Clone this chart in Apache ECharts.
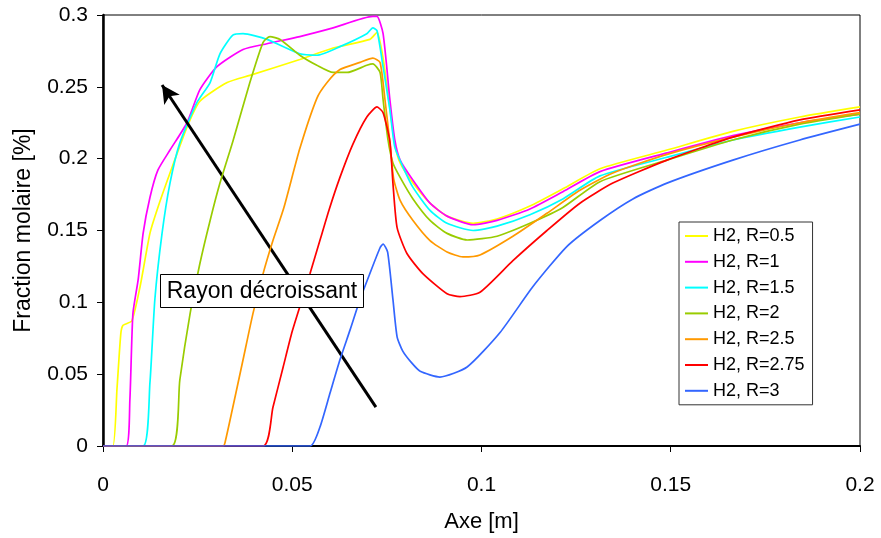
<!DOCTYPE html>
<html>
<head>
<meta charset="utf-8">
<script src="https://cdn.jsdelivr.net/npm/echarts@6/dist/echarts.min.js"></script>
<style>html,body{margin:0;padding:0;background:#fff}#c{width:881px;height:538px}</style>
</head>
<body>
<div id="c"></div>
<script>
const seriesNames = ['H2, R=0.5','H2, R=1','H2, R=1.5','H2, R=2','H2, R=2.5','H2, R=2.75','H2, R=3'];
const seriesColors = ['#FFFF00','#FF00FF','#00FFFF','#99CC00','#FF9900','#FF0000','#3366FF'];
const xTicks = [0, 0.05, 0.1, 0.15, 0.2];
const yTicks = [0, 0.05, 0.1, 0.15, 0.2, 0.25, 0.3];

const r05 = [[0,0],[0.0026,0],[0.0037,0.04],[0.0047,0.078],[0.0053,0.084],[0.0076,0.087],[0.0098,0.111],[0.0124,0.148],[0.0145,0.166],[0.0177,0.19],[0.0222,0.222],[0.0256,0.24],[0.0328,0.253],[0.0388,0.258],[0.052,0.269],[0.0608,0.277],[0.0705,0.283],[0.0724,0.288],[0.074,0.27],[0.0758,0.235],[0.0771,0.21],[0.0785,0.197],[0.0819,0.183],[0.0864,0.169],[0.0909,0.16],[0.0978,0.155],[0.1041,0.158],[0.1128,0.167],[0.1215,0.179],[0.1313,0.193],[0.149,0.206],[0.1664,0.219],[0.1841,0.229],[0.2,0.236]];
const r1 = [[0,0],[0.0061,0],[0.0071,0.032],[0.0079,0.092],[0.0093,0.116],[0.0106,0.148],[0.0124,0.173],[0.0145,0.192],[0.0177,0.206],[0.0222,0.225],[0.0256,0.248],[0.0301,0.264],[0.037,0.276],[0.0433,0.28],[0.052,0.285],[0.0608,0.291],[0.0713,0.299],[0.0724,0.299],[0.074,0.287],[0.0758,0.241],[0.0771,0.213],[0.0785,0.199],[0.0819,0.185],[0.0864,0.169],[0.0909,0.16],[0.0978,0.154],[0.1041,0.157],[0.1128,0.165],[0.1215,0.177],[0.1313,0.191],[0.149,0.204],[0.1664,0.216],[0.1841,0.225],[0.2,0.231]];
const r15 = [[0,0],[0.0106,0],[0.0124,0.044],[0.0137,0.102],[0.0156,0.148],[0.0177,0.183],[0.0203,0.211],[0.0248,0.239],[0.0283,0.253],[0.0309,0.273],[0.0343,0.286],[0.037,0.287],[0.0433,0.283],[0.052,0.273],[0.0565,0.272],[0.0626,0.278],[0.0697,0.287],[0.0713,0.291],[0.0724,0.289],[0.074,0.264],[0.0758,0.234],[0.0771,0.208],[0.0793,0.194],[0.0819,0.18],[0.0864,0.164],[0.0909,0.155],[0.0978,0.15],[0.1041,0.153],[0.1128,0.161],[0.1215,0.172],[0.1313,0.188],[0.149,0.201],[0.1664,0.213],[0.1841,0.222],[0.2,0.229]];
const r2 = [[0,0],[0.0182,0],[0.0203,0.046],[0.023,0.092],[0.0256,0.127],[0.0283,0.157],[0.0309,0.183],[0.0343,0.212],[0.0388,0.253],[0.0423,0.281],[0.0441,0.285],[0.0468,0.283],[0.052,0.272],[0.0565,0.265],[0.0608,0.26],[0.0645,0.26],[0.0697,0.265],[0.0713,0.266],[0.0732,0.26],[0.074,0.241],[0.0753,0.213],[0.0766,0.197],[0.0785,0.187],[0.0819,0.172],[0.0864,0.157],[0.0909,0.148],[0.0962,0.1434],[0.1041,0.146],[0.1128,0.155],[0.1215,0.166],[0.1313,0.184],[0.149,0.199],[0.1664,0.213],[0.1841,0.224],[0.2,0.231]];
const r25 = [[0,0],[0.0317,0],[0.0322,0.002],[0.0343,0.027],[0.037,0.06],[0.0396,0.092],[0.0423,0.12],[0.0449,0.143],[0.0478,0.166],[0.052,0.207],[0.0565,0.242],[0.0592,0.253],[0.0626,0.262],[0.0679,0.267],[0.0713,0.27],[0.0732,0.267],[0.0745,0.241],[0.0758,0.211],[0.0768,0.186],[0.0785,0.171],[0.0819,0.157],[0.0864,0.143],[0.0909,0.135],[0.0951,0.1316],[0.0996,0.133],[0.1083,0.146],[0.1173,0.162],[0.126,0.178],[0.1347,0.19],[0.149,0.203],[0.1664,0.215],[0.1841,0.225],[0.2,0.232]];
const r275 = [[0,0],[0.0423,0],[0.0449,0.027],[0.0476,0.055],[0.0499,0.079],[0.052,0.097],[0.0547,0.12],[0.0573,0.143],[0.0598,0.165],[0.0626,0.187],[0.066,0.21],[0.0697,0.229],[0.0724,0.236],[0.074,0.232],[0.0758,0.212],[0.0766,0.183],[0.0777,0.152],[0.0803,0.134],[0.0845,0.12],[0.0909,0.106],[0.0943,0.104],[0.0996,0.107],[0.1083,0.129],[0.1173,0.15],[0.126,0.169],[0.1347,0.183],[0.149,0.199],[0.1664,0.215],[0.1841,0.227],[0.2,0.234]];
const r3 = [[0,0],[0.0547,0],[0.0573,0.013],[0.06,0.037],[0.0626,0.06],[0.0653,0.081],[0.0679,0.102],[0.0705,0.12],[0.0732,0.138],[0.074,0.1406],[0.0752,0.135],[0.0766,0.102],[0.0777,0.076],[0.0792,0.066],[0.0815,0.058],[0.0838,0.052],[0.089,0.048],[0.0962,0.055],[0.1049,0.079],[0.1136,0.111],[0.1226,0.139],[0.1313,0.157],[0.14,0.172],[0.149,0.183],[0.1664,0.199],[0.1841,0.213],[0.2,0.224]];
const seriesData = [r05, r1, r15, r2, r25, r275, r3];

const arrowStart = [0.0721, 0.0271];
const arrowEnd = [0.0156, 0.2513];
const annotationText = 'Rayon décroissant';

const FONT = '"Liberation Sans", Arial, sans-serif';
const chart = echarts.init(document.getElementById('c'), null, {renderer: 'canvas'});

const series = seriesNames.map((name, i) => {
  const s = {
    name: name,
    type: 'line',
    data: seriesData[i],
    showSymbol: false,
    symbol: 'none',
    smooth: 0.2,
    lineStyle: {color: seriesColors[i], width: 1.7},
    itemStyle: {color: seriesColors[i]},
    z: 2 + i
  };
  if (i === seriesNames.length - 1) {
    s.markLine = {
      silent: true,
      symbol: ['none', 'arrow'],
      symbolSize: [14, 18],
      label: {show: false},
      lineStyle: {color: '#000', width: 3, type: 'solid'},
      data: [[{coord: arrowStart}, {coord: arrowEnd}]],
      animation: false
    };
  }
  return s;
});

chart.setOption({
  animation: false,
  backgroundColor: '#fff',
  grid: {left: 103, top: 15, right: 21, bottom: 92, show: true, borderColor: '#000', borderWidth: 1, backgroundColor: 'transparent'},
  xAxis: {
    type: 'value', min: xTicks[0], max: xTicks[xTicks.length - 1], interval: 0.05,
    name: 'Axe [m]', nameLocation: 'middle', nameGap: 65,
    nameTextStyle: {color: '#000', fontSize: 22, fontFamily: FONT},
    axisLine: {lineStyle: {color: '#000', width: 2}},
    axisTick: {show: true, length: 6, lineStyle: {color: '#000', width: 1}},
    axisLabel: {color: '#000', fontSize: 21, fontFamily: FONT, margin: 29},
    splitLine: {show: false}
  },
  yAxis: {
    type: 'value', min: yTicks[0], max: yTicks[yTicks.length - 1], interval: 0.05,
    name: 'Fraction molaire [%]', nameLocation: 'middle', nameGap: 68,
    nameTextStyle: {color: '#000', fontSize: 23, fontFamily: FONT},
    axisLine: {lineStyle: {color: '#000', width: 2.5}},
    axisTick: {show: true, length: 6, lineStyle: {color: '#000', width: 1}},
    axisLabel: {color: '#000', fontSize: 21, fontFamily: FONT, margin: 15},
    splitLine: {show: false}
  },
  legend: {
    orient: 'vertical', left: 679, top: 222,
    data: seriesNames,
    icon: 'rect', itemWidth: 23, itemHeight: 2, itemGap: 7.8,
    padding: [5, 8, 5, 6],
    borderColor: '#333', borderWidth: 1, backgroundColor: '#fff',
    textStyle: {color: '#000', fontSize: 18, fontFamily: FONT},
    inactiveColor: '#ccc'
  },
  graphic: [{
    type: 'group', left: 160, top: 274, z: 100, zlevel: 1,
    children: [
      {type: 'rect', z: 100, zlevel: 1, shape: {x: 0, y: 0, width: 203, height: 33}, style: {fill: '#fff', stroke: '#000', lineWidth: 1}},
      {type: 'text', z: 101, zlevel: 1, x: 101.5, y: 17, style: {text: annotationText, fill: '#000', font: '23px "Liberation Sans", Arial, sans-serif', textAlign: 'center', textVerticalAlign: 'middle'}}
    ]
  }],
  series: series
});
</script>
</body>
</html>
